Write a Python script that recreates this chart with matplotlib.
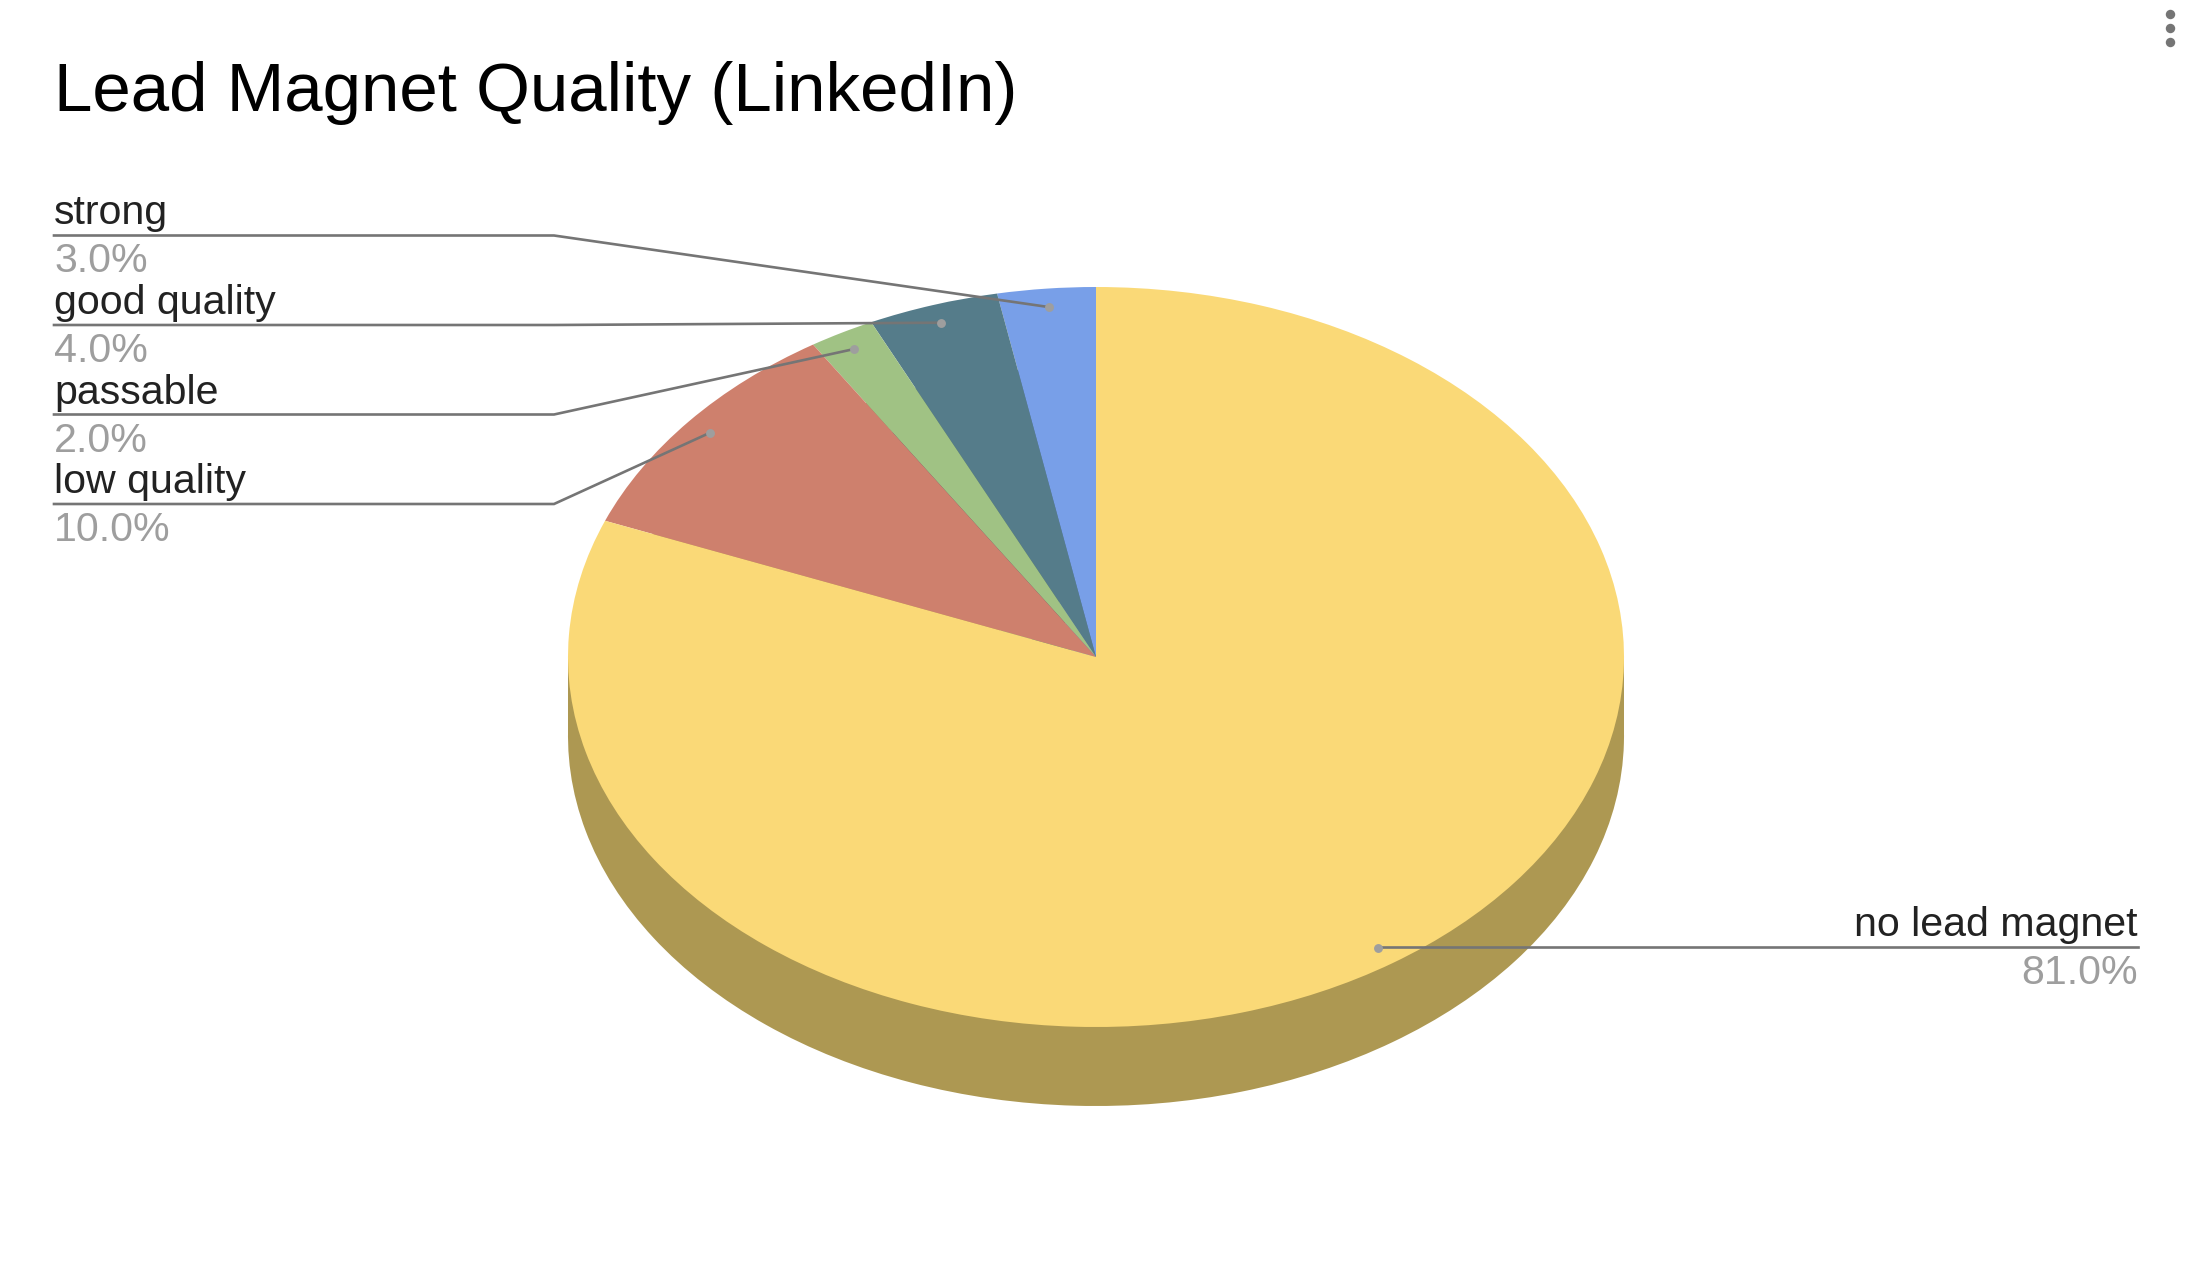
import numpy as np
import matplotlib
matplotlib.use("Agg")
import matplotlib.pyplot as plt
from matplotlib.patches import Rectangle

plt.rcParams['font.family'] = ['Liberation Sans', 'DejaVu Sans']

title = "Lead Magnet Quality (LinkedIn)"
categories = ["strong", "good quality", "passable", "low quality", "no lead magnet"]
values = [3.0, 4.0, 2.0, 10.0, 81.0]
pct_labels = ["3.0%", "4.0%", "2.0%", "10.0%", "81.0%"]
colors = ["#789FE8", "#557C8A", "#A0C284", "#CE806D", "#FAD977"]
side_colors = ["#5F7CB2", "#41606B", "#7D9867", "#A06454", "#AD9852"]

W, H = 2188, 1274
CX, CY, RX, RY, DEPTH = 1096, 657, 528, 370, 79
fig = plt.figure(figsize=(W / 100, H / 100), dpi=100, facecolor="white")

ax = fig.add_axes([0, 0, 1, 1])
d = DEPTH / RY
ax.pie(values, colors=side_colors, startangle=90, radius=1, center=(0, -d),
       wedgeprops=dict(linewidth=0))
ax.add_patch(Rectangle((-1, -d), 2, d, facecolor=side_colors[-1], linewidth=0, zorder=0.5))
ax.pie(values, colors=colors, startangle=90, radius=1, center=(0, 0),
       wedgeprops=dict(linewidth=0))
ax.set_aspect("auto")
ax.set_xlim(-CX / RX, (W - CX) / RX)
ax.set_ylim(-(H - CY) / RY, CY / RY)
ax.axis("off")

ov = fig.add_axes([0, 0, 1, 1], facecolor="none")
ov.set_xlim(0, W)
ov.set_ylim(H, 0)
ov.axis("off")

ov.text(54, 111, title, fontsize=49.8, color="#000000", ha="left", va="baseline")

LINE = "#757575"
DOT = "#9E9E9E"
NAME = "#222222"
FS = 29.6
cum = np.cumsum([0] + values)
mids = (cum[:-1] + cum[1:]) / 2 / sum(values) * 2 * np.pi
elbow_y = [235.5, 325, 414.5, 504]
for i, (name, pct, a) in enumerate(zip(categories, pct_labels, mids)):
    ax_px = CX - 0.95 * RX * np.sin(a)
    ay_px = CY - 0.95 * RY * np.cos(a)
    if i < 4:
        y = elbow_y[i]
        ov.plot([54, 554, ax_px], [y, y, ay_px], color=LINE, lw=1.9, solid_joinstyle="miter", zorder=3)
        ov.text(54, y - 11, name, fontsize=FS, color=NAME, ha="left", va="baseline")
        ov.text(54, y + 37, pct, fontsize=FS, color=DOT, ha="left", va="baseline")
    else:
        y = ay_px - 0.5
        ov.plot([ax_px, 2138], [y, y], color=LINE, lw=1.9, zorder=3)
        ov.text(2138, y - 11, name, fontsize=FS, color=NAME, ha="right", va="baseline")
        ov.text(2138, y + 37, pct, fontsize=FS, color=DOT, ha="right", va="baseline")
    ov.plot([ax_px], [ay_px], "o", color=DOT, ms=6.4, mew=0, zorder=4)

# chart menu dots
ov.plot([2170, 2170, 2170], [14, 28, 42], "o", color="#757575", ms=6.8, mew=0)

fig.savefig("out.png", dpi=100, facecolor="white")
